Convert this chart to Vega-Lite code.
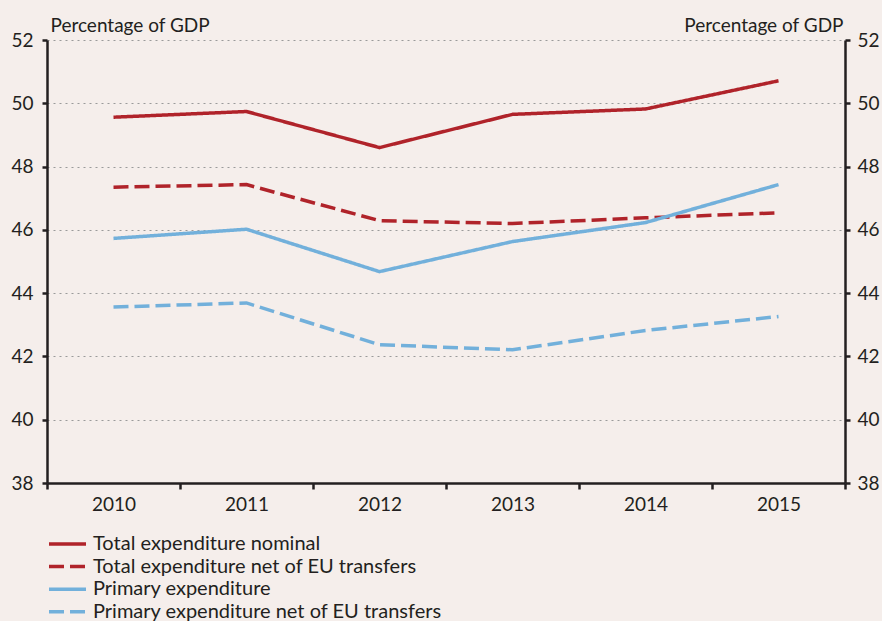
{
  "$schema": "https://vega.github.io/schema/vega-lite/v6.json",
  "width": 798,
  "height": 443,
  "autosize": {"type": "none"},
  "padding": {"left": 47, "top": 40, "right": 37, "bottom": 138},
  "background": "#f5eeeb",
  "config": {
    "view": {"stroke": null},
    "font": "Lato",
    "axis": {
      "domainColor": "#231f20",
      "domainWidth": 2.5,
      "tickColor": "#231f20",
      "tickWidth": 2.5,
      "tickSize": 5,
      "labelColor": "#231f20",
      "labelFont": "Lato",
      "labelFontSize": 19,
      "titleFont": "Lato",
      "titleFontSize": 19,
      "titleFontWeight": "normal",
      "titleColor": "#231f20",
      "gridColor": "#9a9a9a",
      "gridDash": [2, 4],
      "gridWidth": 1.2
    },
    "legend": {
      "labelFont": "Lato",
      "labelFontSize": 20,
      "labelColor": "#231f20",
      "labelLimit": 0
    }
  },
  "data": {
    "values": [
      {"year": "2010", "series": "Total expenditure nominal", "value": 49.56},
      {"year": "2011", "series": "Total expenditure nominal", "value": 49.74},
      {"year": "2012", "series": "Total expenditure nominal", "value": 48.60},
      {"year": "2013", "series": "Total expenditure nominal", "value": 49.65},
      {"year": "2014", "series": "Total expenditure nominal", "value": 49.82},
      {"year": "2015", "series": "Total expenditure nominal", "value": 50.71},
      {"year": "2010", "series": "Total expenditure net of EU transfers", "value": 47.35},
      {"year": "2011", "series": "Total expenditure net of EU transfers", "value": 47.43},
      {"year": "2012", "series": "Total expenditure net of EU transfers", "value": 46.29},
      {"year": "2013", "series": "Total expenditure net of EU transfers", "value": 46.20},
      {"year": "2014", "series": "Total expenditure net of EU transfers", "value": 46.38},
      {"year": "2015", "series": "Total expenditure net of EU transfers", "value": 46.54},
      {"year": "2010", "series": "Primary expenditure", "value": 45.73},
      {"year": "2011", "series": "Primary expenditure", "value": 46.02},
      {"year": "2012", "series": "Primary expenditure", "value": 44.68},
      {"year": "2013", "series": "Primary expenditure", "value": 45.63},
      {"year": "2014", "series": "Primary expenditure", "value": 46.23},
      {"year": "2015", "series": "Primary expenditure", "value": 47.43},
      {"year": "2010", "series": "Primary expenditure net of EU transfers", "value": 43.56},
      {"year": "2011", "series": "Primary expenditure net of EU transfers", "value": 43.69},
      {"year": "2012", "series": "Primary expenditure net of EU transfers", "value": 42.37},
      {"year": "2013", "series": "Primary expenditure net of EU transfers", "value": 42.21},
      {"year": "2014", "series": "Primary expenditure net of EU transfers", "value": 42.82},
      {"year": "2015", "series": "Primary expenditure net of EU transfers", "value": 43.26}
    ]
  },
  "layer": [
    {
      "mark": {"type": "line", "strokeWidth": 3.5, "strokeCap": "butt"},
      "encoding": {
        "x": {
          "field": "year",
          "type": "ordinal",
          "scale": {"type": "band", "paddingInner": 0, "paddingOuter": 0},
          "bandPosition": 0.5,
          "axis": {
            "title": null,
            "labelAngle": 0,
            "tickBand": "extent",
            "tickSize": 6,
            "labelPadding": 6,
            "grid": false
          }
        },
        "y": {
          "field": "value",
          "type": "quantitative",
          "scale": {"domain": [38, 52], "nice": false, "zero": false},
          "axis": {
            "orient": "left",
            "values": [38, 40, 42, 44, 46, 48, 50, 52],
            "grid": true,
            "labelPadding": 9,
            "title": "Percentage of GDP",
            "titleAngle": 0,
            "titleAlign": "left",
            "titleBaseline": "alphabetic",
            "titleX": 3,
            "titleY": -9
          }
        },
        "color": {
          "field": "series",
          "type": "nominal",
          "scale": {
            "domain": ["Total expenditure nominal", "Total expenditure net of EU transfers", "Primary expenditure", "Primary expenditure net of EU transfers"],
            "range": ["#b0232a", "#b0232a", "#72b0db", "#72b0db"]
          },
          "legend": {
            "title": null,
            "orient": "none",
            "legendX": 0,
            "legendY": 494,
            "symbolType": "stroke",
            "symbolSize": 1369,
            "symbolStrokeWidth": 3.5,
            "clipHeight": 20,
            "rowPadding": 2.6,
            "labelOffset": 5,
            "padding": 0
          }
        },
        "strokeDash": {
          "field": "series",
          "type": "nominal",
          "scale": {
            "domain": ["Total expenditure nominal", "Total expenditure net of EU transfers", "Primary expenditure", "Primary expenditure net of EU transfers"],
            "range": [[1, 0], [15, 6], [1, 0], [15, 6]]
          },
          "legend": {
            "title": null,
            "orient": "none",
            "legendX": 0,
            "legendY": 494,
            "symbolType": "stroke",
            "symbolSize": 1369,
            "symbolStrokeWidth": 3.5,
            "clipHeight": 20,
            "rowPadding": 2.6,
            "labelOffset": 5,
            "padding": 0
          }
        }
      }
    },
    {
      "mark": {"type": "line", "opacity": 0},
      "encoding": {
        "x": {
          "field": "year",
          "type": "ordinal",
          "scale": {"type": "band", "paddingInner": 0, "paddingOuter": 0},
          "bandPosition": 0.5
        },
        "y": {
          "field": "value",
          "type": "quantitative",
          "scale": {"domain": [38, 52], "nice": false, "zero": false},
          "axis": {
            "orient": "right",
            "values": [38, 40, 42, 44, 46, 48, 50, 52],
            "grid": false,
            "labelPadding": 7,
            "title": "Percentage of GDP",
            "titleAngle": 0,
            "titleAlign": "right",
            "titleBaseline": "alphabetic",
            "titleX": -2,
            "titleY": -9
          }
        },
        "detail": {"field": "series", "type": "nominal"}
      }
    }
  ],
  "resolve": {"axis": {"y": "independent"}}
}
